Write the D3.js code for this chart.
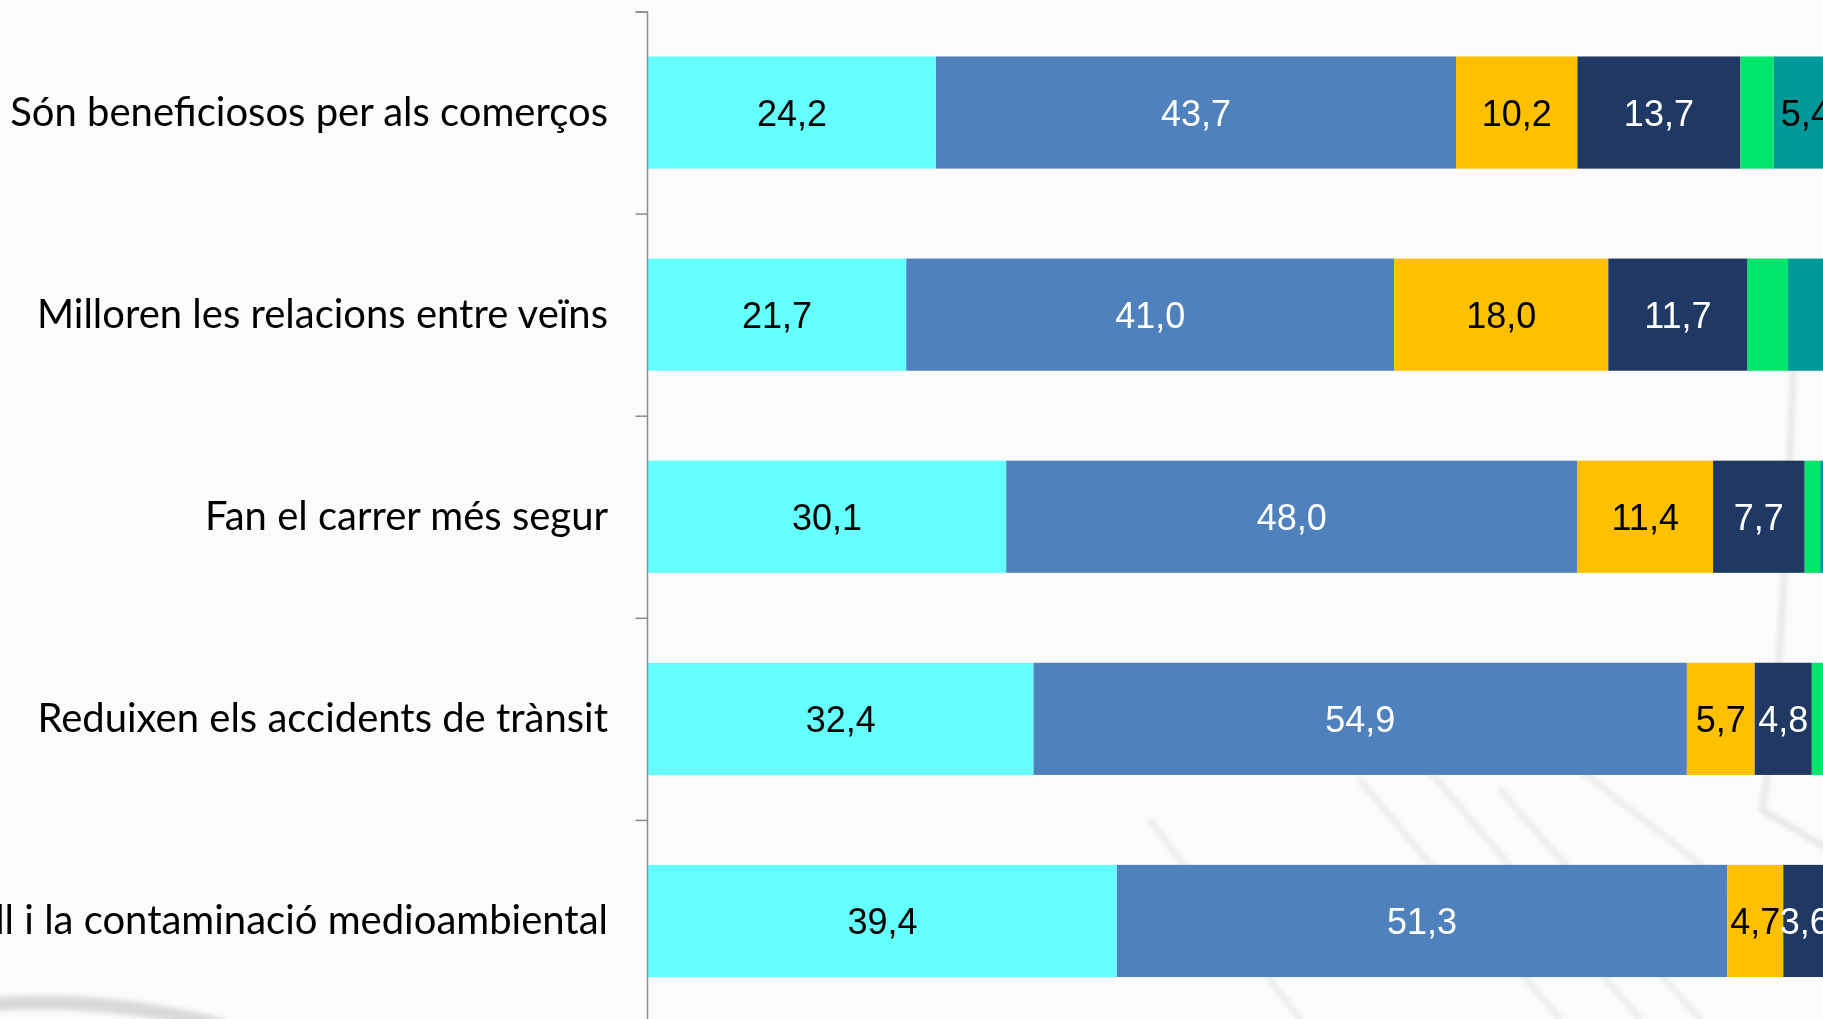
<!DOCTYPE html>
<html>
<head>
<meta charset="utf-8">
<script src="https://cdn.jsdelivr.net/npm/d3@7"></script>
<style>
  html, body { margin: 0; padding: 0; background: #fbfbfb; overflow: hidden; }
  svg { display: block; }
</style>
</head>
<body>
<div id="CHART"></div>
<script>
// categories (top to bottom)
const categories = [
    "Són beneficiosos per als comerços",
    "Milloren les relacions entre veïns",
    "Fan el carrer més segur",
    "Reduixen els accidents de trànsit",
    "Redueixen el soroll i la contaminació medioambiental"
];
// series, left to right
const seriesNames = ["s1", "s2", "s3", "s4", "s5", "s6"];
const s1 = [24.2, 21.7, 30.1, 32.4, 39.4];
const s2 = [43.7, 41.0, 48.0, 54.9, 51.3];
const s3 = [10.2, 18.0, 11.4, 5.7, 4.7];
const s4 = [13.7, 11.7, 7.7, 4.8, 3.6];
const s5 = [2.8, 3.4, 1.3, 1.3, 0.6];
const s6 = [5.4, 4.2, 1.5, 0.9, 0.4];
const seriesColors = ["#66ffff", "#4f81bd", "#ffc000", "#203864", "#00e66b", "#009999"];
const labelColors = ["#000", "#fff", "#000", "#fff", "#000", "#000"];
// smallest value that still gets a label, per series
const labelMin = [0, 0, 0, 0, 5, 5];

class stackedBars {
    constructor() {
        this.width = 1823;
        this.height = 1019;
        this.svg = d3.select("#CHART").append("svg")
            .attr("width", this.width).attr("height", this.height);

        this.m = {left: 648, top: 11.5, right: -15, bottom: -3};
        this.plot_w = this.width - this.m.left - this.m.right;
        this.plot_h = this.height - this.m.top - this.m.bottom;

        this.rows = categories.map((c, i) => {
            let r = {cat: c};
            [s1, s2, s3, s4, s5, s6].forEach((s, k) => r[seriesNames[k]] = s[i]);
            return r;
        });

        this.x = d3.scaleLinear().domain([0, 100]).range([0, this.plot_w]);
        this.y = d3.scaleBand().domain(categories).range([0, this.plot_h]).paddingInner(0.445).paddingOuter(0.2225);

        this.paint_back();
        this.paint();
    }

    paint_back() {
        // faint, blurred background swooshes
        this.svg.append("defs").append("filter").attr("id", "soft")
            .append("feGaussianBlur").attr("stdDeviation", 2.5);
        let bg = this.svg.append("g").attr("fill", "none").attr("stroke-linecap", "round")
            .attr("filter", "url(#soft)");
        bg.append("path").attr("d", "M-20,1005 Q100,995 220,1025")
            .attr("stroke", "#bdbdbd").attr("stroke-width", 14).attr("opacity", 0.55);
        bg.append("path").attr("d", "M1795,330 C1788,500 1782,700 1762,810 L1830,850")
            .attr("stroke", "#cfcfcf").attr("stroke-width", 5).attr("opacity", 0.55);
        [[1360, 780, 1560, 1019], [1420, 760, 1640, 1019], [1500, 790, 1700, 1019], [1150, 820, 1300, 1019], [1580, 770, 1823, 960]]
            .forEach(p => {
                bg.append("line").attr("x1", p[0]).attr("y1", p[1]).attr("x2", p[2]).attr("y2", p[3])
                    .attr("stroke", "#cccccc").attr("stroke-width", 4).attr("opacity", 0.45);
            });
    }

    paint() {
        let this_ = this;
        let g = this_.svg.append("g").attr("transform", `translate(${this_.m.left},${this_.m.top})`);

        let stack = d3.stack().keys(seriesNames)(this_.rows);

        let layers = g.selectAll("g.layer").data(stack).join("g")
            .attr("class", "layer")
            .attr("fill", (d, i) => seriesColors[i]);

        layers.selectAll("rect").data(d => d).join("rect")
            .attr("x", d => this_.x(d[0]))
            .attr("y", d => this_.y(d.data.cat))
            .attr("width", d => this_.x(d[1]) - this_.x(d[0]))
            .attr("height", this_.y.bandwidth());

        layers.each(function (d, i) {
            d3.select(this).selectAll("text").data(d.filter(e => e[1] - e[0] >= labelMin[i])).join("text")
                .attr("x", e => this_.x((e[0] + e[1]) / 2))
                .attr("y", e => this_.y(e.data.cat) + this_.y.bandwidth() / 2)
                .attr("dy", "0.36em")
                .attr("text-anchor", "middle")
                .attr("fill", labelColors[i])
                .style("font-family", "'Liberation Sans', Arial, sans-serif")
                .style("font-size", "36px")
                .text(e => d3.format(".1f")(e[1] - e[0]).replace(".", ","));
        });

        // axis (category)
        let yAxis = d3.axisLeft(d3.scaleLinear().domain([0, categories.length]).range([0, this_.plot_h]))
            .ticks(categories.length).tickSize(12).tickFormat("");
        let ag = g.append("g").attr("transform", "translate(-0.5,0)").call(yAxis);
        ag.select(".domain").attr("stroke", "#8c8c8c").attr("stroke-width", 1.5).attr("d", `M-12,0.5H0V${this_.plot_h}`);
        ag.selectAll(".tick line").attr("stroke", "#8c8c8c").attr("stroke-width", 1.5);

        g.append("g").selectAll("text").data(categories).join("text")
            .attr("x", -40)
            .attr("y", d => this_.y(d) + this_.y.bandwidth() / 2)
            .attr("dy", "0.33em")
            .attr("text-anchor", "end")
            .attr("fill", "#000")
            .style("font-family", "Lato, 'Open Sans', sans-serif")
            .style("font-size", "40px")
            .text(d => d);
    }
}

new stackedBars();
</script>
</body>
</html>
